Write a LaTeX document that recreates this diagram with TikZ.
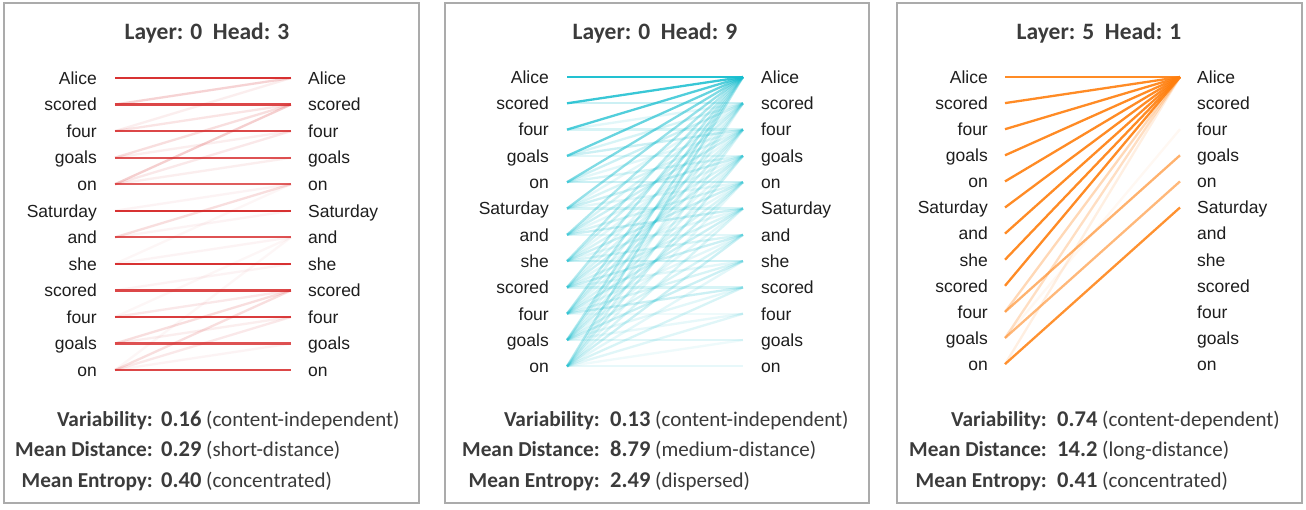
\documentclass[tikz,border=0pt]{standalone}
\usepackage{fontspec}
\setmainfont{Liberation Sans}
\newfontfamily\calfont{Carlito}
\definecolor{redA}{HTML}{D62728}
\definecolor{cyanA}{HTML}{17BECF}
\definecolor{orangeA}{HTML}{FF7F0E}
\definecolor{frameC}{HTML}{ABABAB}
\definecolor{txtC}{HTML}{1E1E1E}
\definecolor{statC}{HTML}{3B3B3B}
\tikzset{
  panelframe/.style={draw=frameC, line width=2pt},
  tok/.style={inner sep=0pt, font=\fontsize{17.5}{20}\selectfont, text=txtC},
  ttl/.style={inner sep=0pt, anchor=base, font=\calfont\bfseries\fontsize{23.5}{27}\selectfont, text=statC},
  statlbl/.style={inner sep=0pt, anchor=base east, font=\calfont\bfseries\fontsize{21.3}{25}\selectfont, text=statC},
  statval/.style={inner sep=0pt, anchor=base west, font=\calfont\fontsize{21}{25}\selectfont, text=statC},
  att/.style={line width=2.3pt},
}
% #1 id, #2 left label right edge, #3 line left x, #4 line right x, #5 right label left edge, #6 first row y, #7 row step
\newcommand{\mkpanel}[7]{%
  \foreach \w [count=\i from 0] in {Alice,scored,four,goals,on,Saturday,and,she,scored,four,goals,on} {
    \pgfmathsetmacro\yy{#6+#7*\i}
    \node[tok, anchor=base east] (#1-lt-\i) at (#2,\yy+6.3) {\w};
    \node[tok, anchor=base west] (#1-rt-\i) at (#5,\yy+6.3) {\w};
    \coordinate (#1-l-\i) at (#3,\yy);
    \coordinate (#1-r-\i) at (#4,\yy);
  }%
}
% #1 id, #2 colon x, #3 value x, #4..#9 values and descriptions
\newcommand{\mkstats}[9]{%
  \node[statlbl] (#1-s1) at (#2,426) {Variability:};
  \node[statval] (#1-v1) at (#3,426) {{\fontsize{22.5}{26}\selectfont\bfseries #4} (#5)};
  \node[statlbl] (#1-s2) at (#2,456.5) {Mean Distance:};
  \node[statval] (#1-v2) at (#3,456.5) {{\fontsize{22.5}{26}\selectfont\bfseries #6} (#7)};
  \node[statlbl] (#1-s3) at (#2,487) {Mean Entropy:};
  \node[statval] (#1-v3) at (#3,487) {{\fontsize{22.5}{26}\selectfont\bfseries #8} (#9)};
}
\begin{document}
\begin{tikzpicture}[x=1pt,y=-1pt]
\useasboundingbox (0,0) rectangle (1306,509);
\fill[white] (0,0) rectangle (1306,509);
% frames
\draw[panelframe] (4,3) rectangle (419,503);
\draw[panelframe] (445,3) rectangle (869,503);
\draw[panelframe] (897,3) rectangle (1302,503);
% titles
\node[ttl] (t1) at (207,39.5) {Layer: 0\ \ Head: 3};
\node[ttl] (t2) at (655,39.5) {Layer: 0\ \ Head: 9};
\node[ttl] (t3) at (1099,39.5) {Layer: 5\ \ Head: 1};
% panels
\mkpanel{P1}{97}{115}{291}{308}{78}{26.55}
\mkpanel{P2}{549}{567}{743}{761}{77}{26.3}
\mkpanel{P3}{988}{1005}{1180}{1197}{77}{26.1}
% panel 1 edges
\foreach \a/\b/\o in {1/0/0.2,2/0/0.08,2/1/0.12,3/1/0.15,3/2/0.08,4/1/0.22,4/2/0.1,4/3/0.08,5/4/0.05,6/4/0.15,6/5/0.05,7/6/0.05,8/7/0.05,9/8/0.1,10/8/0.15,10/9/0.08,11/8/0.15,11/9/0.1,11/10/0.05,7/4/0.04,9/6/0.04,11/6/0.04}
  \draw[att, redA, draw opacity=\o] (P1-l-\a) -- (P1-r-\b);
\foreach \a/\o in {0/0.95,1/0.85,2/0.85,3/0.8,4/0.75,5/0.95,6/0.8,7/0.95,8/0.85,9/0.9,10/0.8,11/0.85}
  \draw[att, redA, draw opacity=\o] (P1-l-\a) -- (P1-r-\a);
% panel 2 edges
\foreach \a in {0,...,11} {
  \foreach \b in {0,...,\a} {
    \pgfmathsetmacro\o{ifthenelse(\b==0, max(0.3,0.95-0.1*\a), (0.12+0.05*mod(\a+\b,3))*(\b>8 ? 0.6 : 1))}
    \draw[att, cyanA, draw opacity=\o] (P2-l-\a) -- (P2-r-\b);
  }
}
% panel 3 edges
\foreach \a/\b/\o in {10/2/0.05,11/0/0.12,10/0/0.25,9/0/0.3,9/3/0.6,10/4/0.55,11/5/0.85}
  \draw[att, orangeA, draw opacity=\o] (P3-l-\a) -- (P3-r-\b);
\foreach \a in {0,...,8}
  \draw[att, orangeA, draw opacity=0.9] (P3-l-\a) -- (P3-r-0);
% stats
\mkstats{S1}{153}{161}{0.16}{content-independent}{0.29}{short-distance}{0.40}{concentrated}
\mkstats{S2}{600}{610}{0.13}{content-independent}{8.79}{medium-distance}{2.49}{dispersed}
\mkstats{S3}{1047}{1057}{0.74}{content-dependent}{14.2}{long-distance}{0.41}{concentrated}
\end{tikzpicture}
\end{document}
